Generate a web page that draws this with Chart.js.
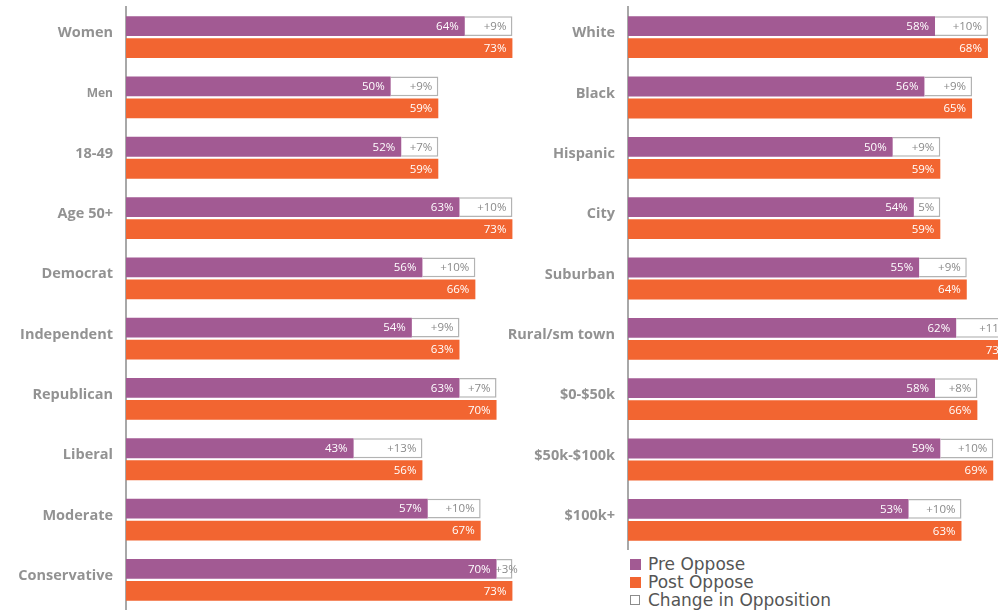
<!DOCTYPE html>
<html><head><meta charset="utf-8">
<script src="https://cdn.jsdelivr.net/npm/chart.js@4"></script>
<style>
html,body{margin:0;padding:0;width:998px;height:610px;overflow:hidden;background:#fff;}
#left{position:absolute;left:0;top:0;}
#right{position:absolute;left:505px;top:0;}
#legend{position:absolute;left:630px;top:555px;font-family:'DejaVu Sans',sans-serif;font-size:17px;color:#555;}
.item{height:18px;line-height:18px;display:flex;align-items:center;white-space:nowrap;}
.sw{width:11px;height:11px;margin-right:7px;box-sizing:border-box;flex:none;}
</style></head><body>
<canvas id="left" width="523" height="610"></canvas>
<canvas id="right" width="520" height="550"></canvas>
<div id="legend"></div>
<script>
// ---- data ----
const leftCategories = ['Women','Men','18-49','Age 50+','Democrat','Independent','Republican','Liberal','Moderate','Conservative'];
const leftPre    = [64,50,52,63,56,54,63,43,57,70];
const leftChange = [9,9,7,10,10,9,7,13,10,3];
const leftPost   = [73,59,59,73,66,63,70,56,67,73];
const leftChangeLabels = ['+9%','+9%','+7%','+10%','+10%','+9%','+7%','+13%','+10%','+3%'];

const rightCategories = ['White','Black','Hispanic','City','Suburban','Rural/sm town','$0-$50k','$50k-$100k','$100k+'];
const rightPre    = [58,56,50,54,55,62,58,59,53];
const rightChange = [10,9,9,5,9,11,8,10,10];
const rightPost   = [68,65,59,59,64,73,66,69,63];
const rightChangeLabels = ['+10%','+9%','+9%','5%','+9%','+11%','+8%','+10%','+10%'];

const seriesNames = ['Pre Oppose','Post Oppose','Change in Opposition'];

// ---- styles ----
const PURPLE = '#a25a93', ORANGE = '#f26531', BOXBORDER = '#b3b3b3';
const LABELGRAY = '#929292';

const labelPlugin = {
  id: 'barLabels',
  afterDatasetsDraw(chart) {
    const ctx = chart.ctx;
    chart.data.datasets.forEach((ds, di) => {
      const meta = chart.getDatasetMeta(di);
      meta.data.forEach((bar, i) => {
        const text = ds.valueLabels[i];
        ctx.save();
        ctx.font = '11.5px "Open Sans"';
        ctx.fillStyle = ds.labelColor;
        ctx.textBaseline = 'middle';
        const l = Math.min(bar.x, bar.base), r = Math.max(bar.x, bar.base);
        const w = ctx.measureText(text).width;
        if (w + 10 > r - l) {
          ctx.textAlign = 'center';
          ctx.fillText(text, (l + r) / 2 + 2, bar.y + 0.5);
        } else {
          ctx.textAlign = 'right';
          ctx.fillText(text, r - 6, bar.y + 0.5);
        }
        ctx.restore();
      });
    });
  }
};

function makeChart(id, cats, pre, change, post, changeLabels, yWidth) {
  return new Chart(document.getElementById(id), {
    type: 'bar',
    plugins: [labelPlugin],
    data: {
      labels: cats,
      datasets: [
        { label: seriesNames[0], data: pre, stack: 'a', backgroundColor: PURPLE, borderWidth: 0,
          valueLabels: pre.map(v => v + '%'), labelColor: '#ffffff' },
        { label: seriesNames[2], data: change, stack: 'a', backgroundColor: '#ffffff', borderColor: BOXBORDER, borderWidth: 1.5,
          valueLabels: changeLabels, labelColor: '#8a8a8a' },
        { label: seriesNames[1], data: post, stack: 'b', backgroundColor: ORANGE, borderWidth: 0,
          valueLabels: post.map(v => v + '%'), labelColor: '#ffffff' }
      ]
    },
    options: {
      indexAxis: 'y',
      responsive: false,
      animation: false,
      categoryPercentage: 0.73,
      barPercentage: 0.9,
      layout: { padding: { top: 7, bottom: 0, left: 0, right: 0 } },
      plugins: { legend: { display: false }, tooltip: { enabled: false } },
      scales: {
        x: { display: false, stacked: true, min: 0, max: 75 },
        y: {
          stacked: true,
          grid: { display: false, drawTicks: false, tickLength: 0 },
          border: { display: true, color: '#a8a8a8', width: 2 },
          ticks: {
            padding: 13,
            labelOffset: -4,
            color: LABELGRAY,
            font: (c) => ({ family: '"Open Sans"', weight: 'bold',
                            size: (c.tick && c.tick.label === 'Men') ? 12 : 14.5 })
          },
          afterFit: (s) => { s.width = yWidth; s.paddingTop = 0; s.paddingBottom = 0; }
        }
      }
    }
  });
}

makeChart('left', leftCategories, leftPre, leftChange, leftPost, leftChangeLabels, 126);
makeChart('right', rightCategories, rightPre, rightChange, rightPost, rightChangeLabels, 123);

// legend (HTML)
const legendItems = [
  { name: seriesNames[0], bg: PURPLE, border: 'none' },
  { name: seriesNames[1], bg: ORANGE, border: 'none' },
  { name: seriesNames[2], bg: '#ffffff', border: '1.5px solid #8c8c8c', small: true }
];
const lg = document.getElementById('legend');
legendItems.forEach(it => {
  const d = document.createElement('div'); d.className = 'item';
  const s = document.createElement('span'); s.className = 'sw';
  s.style.background = it.bg; s.style.border = it.border;
  if (it.small) { s.style.width = '10px'; s.style.height = '10px'; s.style.marginRight = '8px'; }
  const t = document.createElement('span'); t.textContent = it.name;
  d.appendChild(s); d.appendChild(t); lg.appendChild(d);
});
</script>
</body></html>
